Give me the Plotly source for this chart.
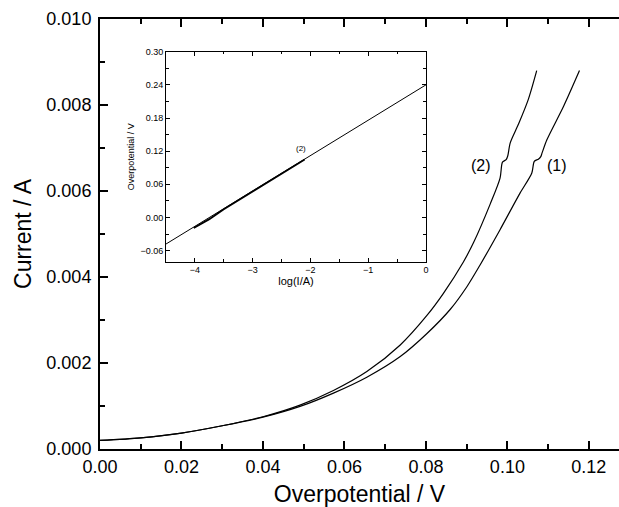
import plotly.graph_objects as go

# Polarization curves: current vs overpotential
curve1_eta = [0.0, 0.01, 0.02, 0.03, 0.04, 0.0491, 0.0573, 0.0655, 0.0737, 0.0802,
              0.0860, 0.0901, 0.0933, 0.0982, 0.1031, 0.1060, 0.1066, 0.1076, 0.1082,
              0.1085, 0.1097, 0.1138, 0.1177]
curve1_i = [0.00020, 0.00026, 0.00037, 0.00054, 0.00074, 0.00099, 0.00130, 0.00167,
            0.00215, 0.00268, 0.00325, 0.00378, 0.00428, 0.00510, 0.00595, 0.00642,
            0.00669, 0.00674, 0.00680, 0.00688, 0.00719, 0.00797, 0.00880]

curve2_eta = [0.0, 0.01, 0.02, 0.03, 0.04, 0.0491, 0.0573, 0.0655, 0.0737, 0.0802,
              0.0843, 0.0892, 0.0917, 0.0958, 0.0982, 0.0988, 0.0997, 0.1001, 0.1007,
              0.1027, 0.1051, 0.1072]
curve2_i = [0.00020, 0.00026, 0.00037, 0.00054, 0.00075, 0.00102, 0.00136, 0.00180,
            0.00242, 0.00310, 0.00362, 0.00435, 0.00480, 0.00570, 0.00630, 0.00667,
            0.00673, 0.00682, 0.00712, 0.00755, 0.00812, 0.00880]

# Tafel plot (inset): measured points and linear fit
tafel_log_i = [-4.02, -3.9, -3.75, -3.5, -3.2, -2.9, -2.6, -2.3, -2.1]
tafel_eta = [-0.019, -0.012, -0.003, 0.015, 0.034, 0.053, 0.073, 0.092, 0.105]
fit_log_i = [-4.5, 0.0]
fit_eta = [-0.048, 0.240]

main_x_ticks = [0.0, 0.02, 0.04, 0.06, 0.08, 0.10, 0.12]
main_y_ticks = [0.000, 0.002, 0.004, 0.006, 0.008, 0.010]
inset_x_ticks = [-4, -3, -2, -1, 0]
inset_y_ticks = [-0.06, 0.00, 0.06, 0.12, 0.18, 0.24, 0.30]

FONT = "Liberation Sans, Arial, sans-serif"

fig = go.Figure()
line_style = dict(color="black", width=1.2, shape="spline", smoothing=0.8)
fig.add_trace(go.Scatter(x=curve1_eta, y=curve1_i, mode="lines", line=line_style,
                         showlegend=False, hoverinfo="skip"))
fig.add_trace(go.Scatter(x=curve2_eta, y=curve2_i, mode="lines", line=line_style,
                         showlegend=False, hoverinfo="skip"))

fig.add_trace(go.Scatter(x=fit_log_i, y=fit_eta, mode="lines", xaxis="x2", yaxis="y2",
                         line=dict(color="black", width=1), showlegend=False,
                         hoverinfo="skip"))
fig.add_trace(go.Scatter(x=tafel_log_i, y=tafel_eta, mode="lines", xaxis="x2", yaxis="y2",
                         line=dict(color="black", width=1.8), showlegend=False,
                         hoverinfo="skip"))

fig.add_annotation(x=0.0935, y=0.00659, text="(2)", showarrow=False,
                   font=dict(family=FONT, size=16, color="black"))
fig.add_annotation(x=0.1122, y=0.00659, text="(1)", showarrow=False,
                   font=dict(family=FONT, size=16, color="black"))
fig.add_annotation(x=-2.17, y=0.125, xref="x2", yref="y2", text="(2)", showarrow=False,
                   font=dict(family=FONT, size=8, color="black"))

fig.update_layout(
    width=619, height=507,
    template="none",
    paper_bgcolor="white", plot_bgcolor="white",
    margin=dict(l=100, r=0, t=19, b=58),
    font=dict(family=FONT, color="black"),
    xaxis=dict(
        range=[0, 0.1274], tickvals=main_x_ticks, tickformat=".2f",
        ticks="inside", ticklen=8, tickwidth=1.5, tickcolor="black",
        minor=dict(dtick=0.01, ticks="inside", ticklen=5, tickwidth=1.5, tickcolor="black"),
        showline=True, linewidth=2, linecolor="black", mirror="ticks",
        showgrid=False, zeroline=False, automargin=False,
        tickfont=dict(size=18),
        title=dict(text="Overpotential / V", font=dict(size=23), standoff=10),
    ),
    yaxis=dict(
        range=[0, 0.010], tickvals=main_y_ticks, tickformat=".3f",
        ticks="inside", ticklen=8, tickwidth=1.5, tickcolor="black",
        minor=dict(dtick=0.001, ticks="inside", ticklen=5, tickwidth=1.5, tickcolor="black"),
        showline=True, linewidth=2, linecolor="black", mirror=False,
        showgrid=False, zeroline=False, automargin=False,
        tickfont=dict(size=18), ticklabelstandoff=3,
        title=dict(text="Current / A", font=dict(size=23), standoff=8),
    ),
    xaxis2=dict(
        domain=[0.1272, 0.6281], anchor="y2", range=[-4.5, 0],
        tickvals=inset_x_ticks, tickformat="d",
        ticks="inside", ticklen=4, tickwidth=1, tickcolor="black",
        minor=dict(dtick=0.5, ticks="inside", ticklen=2.5, tickwidth=1, tickcolor="black"),
        showline=True, linewidth=1, linecolor="black", mirror="ticks",
        showgrid=False, zeroline=False, automargin=False,
        tickfont=dict(size=9),
        title=dict(text="log(I/A)", font=dict(size=11), standoff=0),
    ),
    yaxis2=dict(
        domain=[0.4356, 0.924], anchor="x2", range=[-0.08, 0.30],
        tickvals=inset_y_ticks, tickformat=".2f",
        ticks="inside", ticklen=4, tickwidth=1, tickcolor="black",
        minor=dict(dtick=0.03, ticks="inside", ticklen=2.5, tickwidth=1, tickcolor="black"),
        showline=True, linewidth=1, linecolor="black", mirror="ticks",
        showgrid=False, zeroline=False, automargin=False,
        tickfont=dict(size=9),
        title=dict(text="Overpotential / V", font=dict(size=9), standoff=4),
    ),
)

fig.write_html("out.html")
